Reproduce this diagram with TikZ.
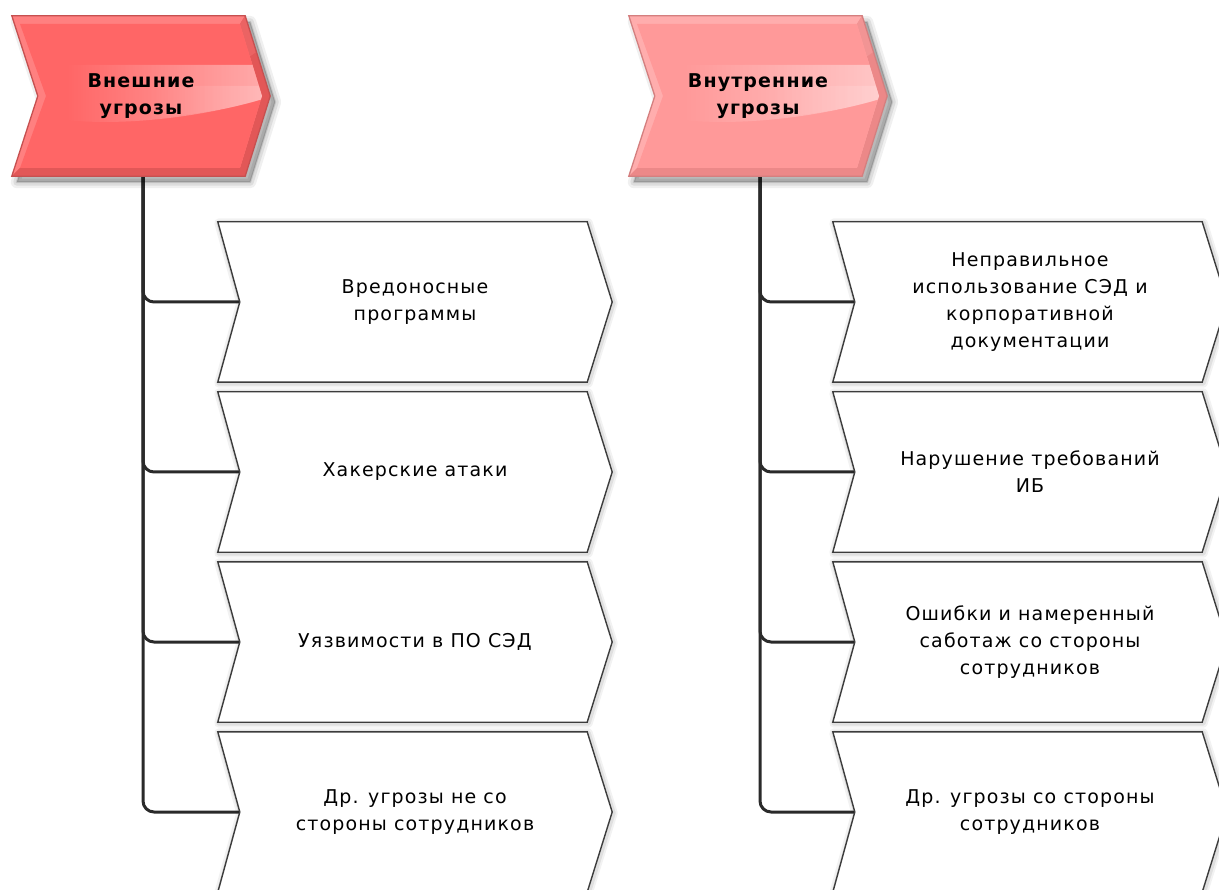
\documentclass[tikz,border=0pt]{standalone}
\usepackage{fontspec}
\setmainfont{DejaVu Sans}[LetterSpace=6]
\usetikzlibrary{backgrounds,calc,fadings}

\definecolor{extfill}{HTML}{FF6666}
\definecolor{extlight}{HTML}{FF8080}
\definecolor{extdark}{HTML}{E25757}
\definecolor{extline}{HTML}{C65050}
\definecolor{intfill}{HTML}{FF9999}
\definecolor{intlight}{HTML}{FFADAD}
\definecolor{intdark}{HTML}{EC8888}
\definecolor{intline}{HTML}{D47F7F}
\definecolor{boxline}{HTML}{3C3C3C}
\definecolor{linkcol}{HTML}{2A2A2A}

\tikzfading[name=glossfade, left color=transparent!100, right color=transparent!0]

% arrow-like outline around a named node: tip depth #2, notch depth #3
\newcommand\chevronpath[3]{%
  (#1.north west) -- ([xshift=-#2pt]#1.north east) -- (#1.east)
  -- ([xshift=-#2pt]#1.south east) -- (#1.south west)
  -- ([xshift=#3pt]#1.west) -- cycle}

% header: bevelled arrow with a glossy band
% #1 node, #2 face, #3 light bevel, #4 dark bevel, #5 outline
\newcommand\drawhead[5]{%
  \foreach \p/\dx/\dy in {oNW/-129/-80, oNE/104/-80, oE/129/0, oSE/104/80, oSW/-129/80, oW/-103/0,
                          iNW/-121/-72, iNE/99/-72, iE/121/0, iSE/99/72, iSW/-121/72, iW/-95/0}
    \coordinate (#1-\p) at ($(#1.center)+(\dx,\dy)$);
  \path[hshadow] \chevronpath{#1}{25}{26};
  \fill[#3] \chevronpath{#1}{25}{26};
  \fill[#4] (#1-oNE) -- (#1-oE) -- (#1-oSE) -- (#1-oSW) -- (#1-iSW) -- (#1-iSE) -- (#1-iE) -- (#1-iNE) -- cycle;
  \fill[#4!60!#3, opacity=.8] (#1-oNE) -- ($(#1-oNE)!.45!(#1-oE)$) -- ($(#1-iNE)!.45!(#1-iE)$) -- (#1-iNE) -- cycle;
  \fill[#2] (#1-iNW) -- (#1-iNE) -- (#1-iE) -- (#1-iSE) -- (#1-iSW) -- (#1-iW) -- cycle;
  \begin{scope}
    \clip (#1-iNW) -- (#1-iNE) -- (#1-iE) -- (#1-iSE) -- (#1-iSW) -- (#1-iW) -- cycle;
    \fill[white, fill opacity=.45, path fading=glossfade]
      ($(#1.center)+(-75,-31)$) -- ($(#1.center)+(125,-31)$)
      -- ($(#1.center)+(125,2)$)
      .. controls ($(#1.center)+(60,22)$) and ($(#1.center)+(-20,30)$)
      .. ($(#1.center)+(-75,24)$) -- cycle;
    \fill[white, fill opacity=.18, path fading=glossfade]
      ($(#1.center)+(10,-10)$) -- ($(#1.center)+(125,-10)$)
      -- ($(#1.center)+(125,2)$)
      .. controls ($(#1.center)+(90,14)$) and ($(#1.center)+(40,20)$)
      .. ($(#1.center)+(10,22)$) -- cycle;
  \end{scope}
  \draw[#5, line width=1.3pt, line join=miter] \chevronpath{#1}{25}{26};
}

\tikzset{
  hshadow/.style={
    preaction={fill=black, draw=black, opacity=.06, line width=12pt, line join=round,
      transform canvas={shift={(5pt,-6pt)}}},
    preaction={fill=black, draw=black, opacity=.08, line width=7pt, line join=round,
      transform canvas={shift={(5pt,-6pt)}}},
    preaction={fill=black, draw=black, opacity=.10, line width=2pt, line join=round,
      transform canvas={shift={(5pt,-6pt)}}}},
  bshadow/.style={
    preaction={draw=black, opacity=.05, line width=9pt, line join=round,
      transform canvas={shift={(1pt,-1pt)}}},
    preaction={draw=black, opacity=.07, line width=5pt, line join=round,
      transform canvas={shift={(1pt,-1pt)}}}},
  headnode/.style={minimum width=258pt, minimum height=160pt, inner sep=0pt,
    align=center, font=\fontsize{19}{27}\selectfont\bfseries},
  threat/.style={minimum width=394pt, minimum height=160pt, inner sep=0pt,
    align=center, font=\fontsize{19}{27}\selectfont},
  link/.style={draw=linkcol, line width=3pt, rounded corners=11pt}
}

\begin{document}
\begin{tikzpicture}[x=1pt, y=-1pt]
\useasboundingbox (0,0) rectangle (1219,890);

% headers
\node[headnode] (ext) at (141,96) {Внешние\\угрозы};
\node[headnode] (int) at (758,96) {Внутренние\\угрозы};

% external threats
\node[threat] (e1) at (415,302) {Вредоносные\\программы};
\node[threat] (e2) at (415,472) {Хакерские атаки};
\node[threat] (e3) at (415,642) {Уязвимости в ПО СЭД};
\node[threat] (e4) at (415,812) {Др. угрозы не со\\стороны сотрудников};

% internal threats
\node[threat] (i1) at (1030,302) {Неправильное\\использование СЭД и\\корпоративной\\документации};
\node[threat] (i2) at (1030,472) {Нарушение требований\\ИБ};
\node[threat] (i3) at (1030,642) {Ошибки и намеренный\\саботаж со стороны\\сотрудников};
\node[threat] (i4) at (1030,812) {Др. угрозы со стороны\\сотрудников};

\begin{scope}[on background layer]
  \fill[white] (0,0) rectangle (1219,890);
  % connectors from each header to its items
  \foreach \h/\n in {ext/e4, ext/e3, ext/e2, ext/e1, int/i4, int/i3, int/i2, int/i1}
    \draw[link] ([xshift=2pt]\h.south) |- ([xshift=22pt]\n.west);
  % item outlines
  \foreach \n in {e1,e2,e3,e4,i1,i2,i3,i4}
    \filldraw[bshadow, fill=white, draw=boxline, line width=1.4pt, line join=miter]
      \chevronpath{\n}{25}{22};
  % header outlines
  \drawhead{ext}{extfill}{extlight}{extdark}{extline}
  \drawhead{int}{intfill}{intlight}{intdark}{intline}
\end{scope}
\end{tikzpicture}
\end{document}
